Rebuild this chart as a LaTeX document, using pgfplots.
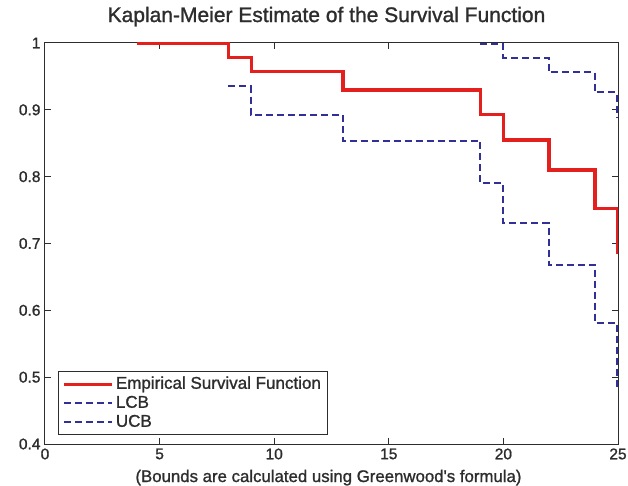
\documentclass[border=0pt]{standalone}
\usepackage{fontspec}
\setmainfont{Liberation Sans}
\newfontfamily\heavy{Liberation Sans}[FakeBold=1.2]
\usepackage{pgfplots}
\pgfplotsset{compat=1.18}
\definecolor{kmred}{RGB}{228,32,30}
\definecolor{kmblue}{RGB}{48,48,150}
\definecolor{axgray}{RGB}{45,45,45}
\begin{document}
\begin{tikzpicture}
\begin{axis}[
  scale only axis, width=573bp, height=401bp,
  xmin=0, xmax=25, ymin=0.4, ymax=1,
  xtick={0,5,10,15,20,25},
  ytick={0.4,0.5,0.6,0.7,0.8,0.9,1},
  yticklabels={0.4,0.5,0.6,0.7,0.8,0.9,1},
  /pgf/number format/assume math mode=true,
  tick align=inside,
  major tick length=6bp,
  axis line style={axgray, line width=1bp},
  every tick/.style={axgray, line width=1bp},
  tick label style={font=\heavy\fontsize{15.5bp}{17bp}\selectfont, text=axgray},
  xticklabel style={yshift=-1bp},
  yticklabel style={xshift=-1bp},
  title={Kaplan-Meier Estimate of the Survival Function},
  title style={font=\heavy\fontsize{21bp}{24bp}\selectfont, text=axgray, at={(axis description cs:0.5,1)}, anchor=base, yshift=15bp, xshift=-5bp},
  xlabel={(Bounds are calculated using Greenwood\textquotesingle s formula)},
  xlabel style={font=\heavy\fontsize{16.8bp}{19bp}\selectfont, text=axgray, at={(axis description cs:0.5,0)}, anchor=base, yshift=-38bp, xshift=-3bp},
  legend style={at={(axis description cs:0.0227,0.022)}, anchor=south west, draw=axgray, line width=0.8bp, font=\heavy\fontsize{17bp}{19bp}\selectfont, text=axgray, inner xsep=4bp, inner ysep=3bp, nodes={inner ysep=1.5bp, text height=12.5bp, text depth=3.5bp}},
  legend cell align=left,
  legend image code/.code={\draw[#1] (0bp,0bp) -- (48bp,0bp);},
]
\addplot[const plot, kmred, line width=3.5bp] coordinates {
  (4,1) (8,0.978) (9,0.957) (13,0.930) (19,0.893) (20,0.855) (22,0.810) (24,0.752) (25,0.685)
};
\addlegendentry{Empirical Survival Function}
\addplot[const plot, kmblue, line width=2bp, dash pattern=on 7bp off 4bp] coordinates {
  (8,0.935) (9,0.893) (13,0.853) (19,0.790) (20,0.730) (22,0.668) (24,0.581) (24.96,0.480)
};
\addlegendentry{LCB}
\addplot[const plot, kmblue, line width=2bp, dash pattern=on 7bp off 4bp] coordinates {
  (19,0.998) (20,0.978) (22,0.956) (24,0.926) (24.96,0.889)
};
\addlegendentry{UCB}
\end{axis}
\pgfresetboundingbox
\path[use as bounding box] ([xshift=-45bp,yshift=-42bp]current axis.south west) rectangle ([xshift=10bp,yshift=43bp]current axis.north east);
\end{tikzpicture}
\end{document}
